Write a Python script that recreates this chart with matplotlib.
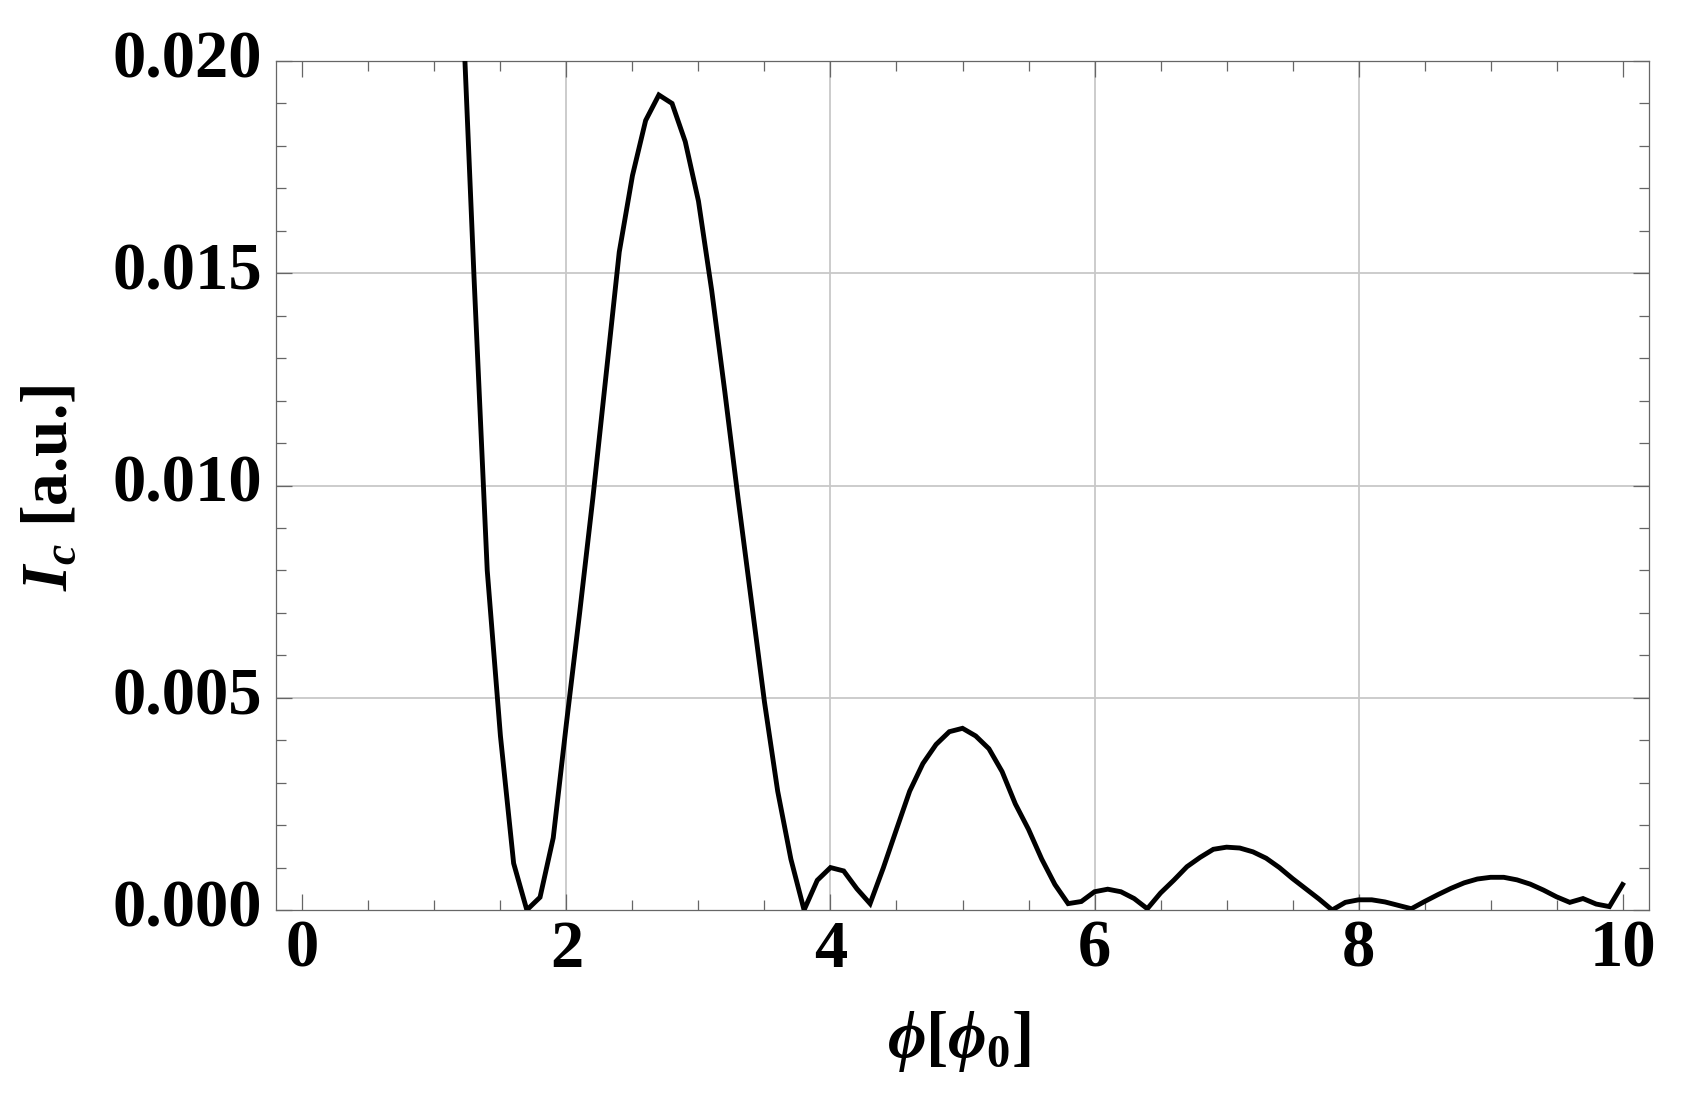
import matplotlib
matplotlib.use("Agg")
import matplotlib.pyplot as plt
from matplotlib.ticker import MultipleLocator, FixedLocator

plt.rcParams['font.family'] = ['Liberation Serif', 'DejaVu Serif']
plt.rcParams['font.weight'] = 'bold'
plt.rcParams['mathtext.fontset'] = 'custom'
plt.rcParams['mathtext.rm'] = 'Liberation Serif:bold'
plt.rcParams['mathtext.it'] = 'Liberation Serif:italic:bold'
plt.rcParams['mathtext.bf'] = 'Liberation Serif:bold'

# ---- data ----
phi = [1.2, 1.3, 1.4, 1.5, 1.6, 1.7, 1.8, 1.9,
       2.0, 2.1, 2.2, 2.3, 2.4, 2.5, 2.6, 2.7, 2.8, 2.9,
       3.0, 3.1, 3.2, 3.3, 3.4, 3.5, 3.6, 3.7, 3.8, 3.9,
       4.0, 4.1, 4.2, 4.3, 4.4, 4.5, 4.6, 4.7, 4.8, 4.9,
       5.0, 5.1, 5.2, 5.3, 5.4, 5.5, 5.6, 5.7, 5.8, 5.9,
       6.0, 6.1, 6.2, 6.3, 6.4, 6.5, 6.6, 6.7, 6.8, 6.9,
       7.0, 7.1, 7.2, 7.3, 7.4, 7.5, 7.6, 7.7, 7.8, 7.9,
       8.0, 8.1, 8.2, 8.3, 8.4, 8.5, 8.6, 8.7, 8.8, 8.9,
       9.0, 9.1, 9.2, 9.3, 9.4, 9.5, 9.6, 9.7, 9.8, 9.9,
       10.0]
ic = [0.0223, 0.0149, 0.0080, 0.0041, 0.0011, 0.0000, 0.0003, 0.0017,
      0.0044, 0.0070, 0.0097, 0.0126, 0.0155, 0.0173, 0.0186, 0.0192, 0.0190, 0.0181,
      0.0167, 0.0146, 0.0122, 0.0097, 0.0073, 0.0049, 0.0028, 0.0012, 0.0000, 0.0007,
      0.00100, 0.00092, 0.00050, 0.00015, 0.00099, 0.0019, 0.0028, 0.00345, 0.0039, 0.0042,
      0.00428, 0.0041, 0.0038, 0.00326, 0.0025, 0.0019, 0.0012, 0.0006, 0.00015, 0.0002,
      0.00043, 0.00049, 0.00043, 0.00027, 0.00003, 0.0004, 0.0007, 0.00102, 0.00124, 0.00143,
      0.00148, 0.00146, 0.00137, 0.00122, 0.00100, 0.00074, 0.00050, 0.00026, 0.00000, 0.00018,
      0.00024, 0.00024, 0.00019, 0.00011, 0.00003, 0.00020, 0.00036, 0.00051, 0.00064, 0.00073,
      0.00077, 0.00077, 0.00071, 0.00061, 0.00047, 0.00031, 0.00018, 0.00027, 0.00014, 0.00008,
      0.00060]

x_ticks = [0, 2, 4, 6, 8, 10]
y_ticks = [0.000, 0.005, 0.010, 0.015, 0.020]
y_tick_labels = ["0.000", "0.005", "0.010", "0.015", "0.020"]
x_grid = [2, 4, 6, 8]
y_grid = [0.005, 0.010, 0.015]

fig = plt.figure(figsize=(16.84, 10.95), dpi=100)
ax = fig.add_axes([276 / 1684, 1 - 910 / 1095, (1649 - 276) / 1684, (910 - 61) / 1095])

for g in x_grid:
    ax.axvline(g, color='#c8c8c8', lw=1.3, zorder=1)
for g in y_grid:
    ax.axhline(g, color='#c8c8c8', lw=1.3, zorder=1)

ax.plot(phi, ic, color='black', lw=3.5, zorder=3, solid_joinstyle='miter')

ax.set_xlim(-0.2, 10.2)
ax.set_ylim(0.0, 0.020)

ax.xaxis.set_major_locator(FixedLocator(x_ticks))
ax.xaxis.set_minor_locator(MultipleLocator(0.5))
ax.yaxis.set_major_locator(FixedLocator(y_ticks))
ax.yaxis.set_minor_locator(MultipleLocator(0.001))
ax.set_yticklabels(y_tick_labels)
ax.set_xticklabels([str(t) for t in x_ticks])

for s in ax.spines.values():
    s.set_color('#666666')
    s.set_linewidth(0.9)

ax.tick_params(which='both', direction='in', top=True, right=True, color='#666666', width=0.9)
ax.tick_params(which='major', length=11.5)
ax.tick_params(which='minor', length=7)
ax.tick_params(axis='x', which='major', labelsize=48, pad=7)
ax.tick_params(axis='y', which='major', labelsize=48, pad=10)
for lab in ax.get_xticklabels() + ax.get_yticklabels():
    lab.set_fontweight('bold')
for lab in ax.get_yticklabels():
    lab.set_va('center')

ax.set_xlabel(r"$\phi[\phi_0]$", fontsize=48, fontweight='bold')
ax.set_ylabel(r"$I_c$ [a.u.]", fontsize=47, fontweight='bold')
ax.xaxis.set_label_coords(0.497, -0.155)
ax.xaxis.label.set_va('center')
ax.yaxis.set_label_coords(-0.164, 0.497)
ax.yaxis.label.set_va('center')

fig.savefig("out.png", dpi=100)
